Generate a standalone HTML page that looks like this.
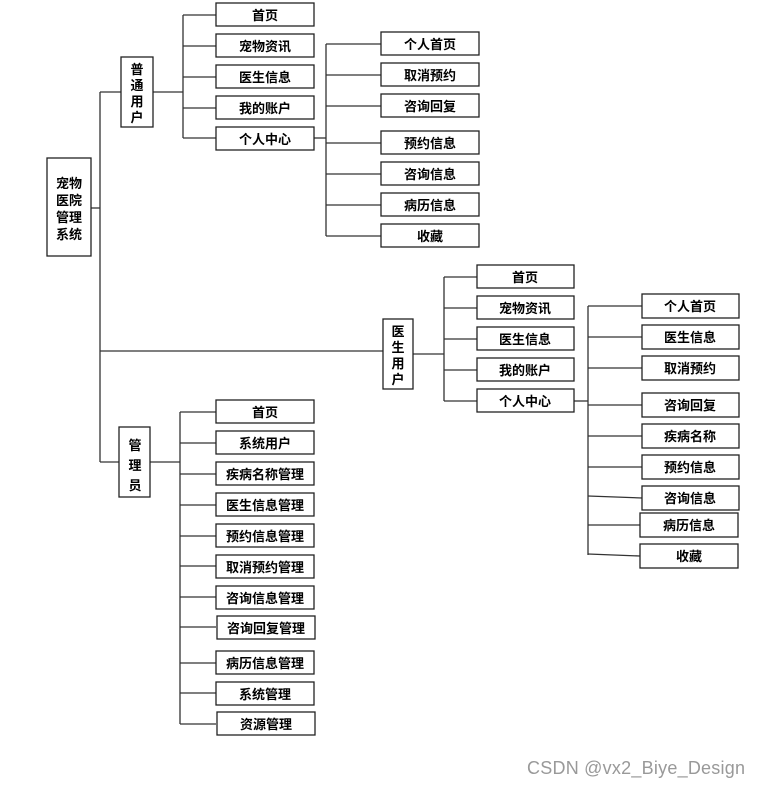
<!DOCTYPE html>
<html><head><meta charset="utf-8"><style>
html,body{margin:0;padding:0;background:#fff;}
svg text{font-family:"Liberation Sans","Noto Sans CJK SC",sans-serif;font-size:13px;font-weight:bold;fill:#000;}
</style></head><body>
<svg width="759" height="786" viewBox="0 0 759 786" xmlns="http://www.w3.org/2000/svg">
<g stroke="#333" stroke-width="1.3" fill="none">
<line x1="91" y1="208" x2="100" y2="208"/>
<line x1="100" y1="92" x2="100" y2="462"/>
<line x1="100" y1="92" x2="121" y2="92"/>
<line x1="100" y1="351" x2="383" y2="351"/>
<line x1="100" y1="462" x2="119" y2="462"/>
<line x1="153" y1="92" x2="183" y2="92"/>
<line x1="183" y1="15" x2="183" y2="138"/>
<line x1="183" y1="15" x2="216" y2="15"/>
<line x1="183" y1="46" x2="216" y2="46"/>
<line x1="183" y1="77" x2="216" y2="77"/>
<line x1="183" y1="108" x2="216" y2="108"/>
<line x1="183" y1="138" x2="216" y2="138"/>
<line x1="314" y1="138" x2="326" y2="138"/>
<line x1="326" y1="44" x2="326" y2="236"/>
<line x1="326" y1="44" x2="381" y2="44"/>
<line x1="326" y1="75" x2="381" y2="75"/>
<line x1="326" y1="106" x2="381" y2="106"/>
<line x1="326" y1="143" x2="381" y2="143"/>
<line x1="326" y1="174" x2="381" y2="174"/>
<line x1="326" y1="205" x2="381" y2="205"/>
<line x1="326" y1="236" x2="381" y2="236"/>
<line x1="413" y1="354" x2="444" y2="354"/>
<line x1="444" y1="277" x2="444" y2="401"/>
<line x1="444" y1="277" x2="477" y2="277"/>
<line x1="444" y1="308" x2="477" y2="308"/>
<line x1="444" y1="339" x2="477" y2="339"/>
<line x1="444" y1="370" x2="477" y2="370"/>
<line x1="444" y1="401" x2="477" y2="401"/>
<line x1="574" y1="401" x2="588" y2="401"/>
<line x1="588" y1="306" x2="588" y2="555"/>
<line x1="588" y1="306" x2="642" y2="306"/>
<line x1="588" y1="337" x2="642" y2="337"/>
<line x1="588" y1="368" x2="642" y2="368"/>
<line x1="588" y1="405" x2="642" y2="405"/>
<line x1="588" y1="436" x2="642" y2="436"/>
<line x1="588" y1="467" x2="642" y2="467"/>
<line x1="588" y1="496" x2="642" y2="498"/>
<line x1="588" y1="525" x2="640" y2="525"/>
<line x1="588" y1="554" x2="640" y2="556"/>
<line x1="150" y1="462" x2="180" y2="462"/>
<line x1="180" y1="412" x2="180" y2="724"/>
<line x1="180" y1="412" x2="216" y2="412"/>
<line x1="180" y1="443" x2="216" y2="443"/>
<line x1="180" y1="474" x2="216" y2="474"/>
<line x1="180" y1="505" x2="216" y2="505"/>
<line x1="180" y1="536" x2="216" y2="536"/>
<line x1="180" y1="566" x2="216" y2="566"/>
<line x1="180" y1="597" x2="216" y2="597"/>
<line x1="180" y1="627" x2="216" y2="627"/>
<line x1="180" y1="663" x2="216" y2="663"/>
<line x1="180" y1="693" x2="216" y2="693"/>
<line x1="180" y1="724" x2="216" y2="724"/>
</g>
<g stroke="#222" stroke-width="1.3" fill="#fff">
<rect x="47" y="158" width="44" height="98"/>
<rect x="121" y="57" width="32" height="70"/>
<rect x="383" y="319" width="30" height="70"/>
<rect x="119" y="427" width="31" height="70"/>
<rect x="216" y="3" width="98" height="23"/>
<rect x="216" y="34" width="98" height="23"/>
<rect x="216" y="65" width="98" height="23"/>
<rect x="216" y="96" width="98" height="23"/>
<rect x="216" y="127" width="98" height="23"/>
<rect x="381" y="32" width="98" height="23"/>
<rect x="381" y="63" width="98" height="23"/>
<rect x="381" y="94" width="98" height="23"/>
<rect x="381" y="131" width="98" height="23"/>
<rect x="381" y="162" width="98" height="23"/>
<rect x="381" y="193" width="98" height="23"/>
<rect x="381" y="224" width="98" height="23"/>
<rect x="477" y="265" width="97" height="23"/>
<rect x="477" y="296" width="97" height="23"/>
<rect x="477" y="327" width="97" height="23"/>
<rect x="477" y="358" width="97" height="23"/>
<rect x="477" y="389" width="97" height="23"/>
<rect x="642" y="294" width="97" height="24"/>
<rect x="642" y="325" width="97" height="24"/>
<rect x="642" y="356" width="97" height="24"/>
<rect x="642" y="393" width="97" height="24"/>
<rect x="642" y="424" width="97" height="24"/>
<rect x="642" y="455" width="97" height="24"/>
<rect x="642" y="486" width="97" height="24"/>
<rect x="640" y="513" width="98" height="24"/>
<rect x="640" y="544" width="98" height="24"/>
<rect x="216" y="400" width="98" height="23"/>
<rect x="216" y="431" width="98" height="23"/>
<rect x="216" y="462" width="98" height="23"/>
<rect x="216" y="493" width="98" height="23"/>
<rect x="216" y="524" width="98" height="23"/>
<rect x="216" y="555" width="98" height="23"/>
<rect x="216" y="586" width="98" height="23"/>
<rect x="217" y="616" width="98" height="23"/>
<rect x="216" y="651" width="98" height="23"/>
<rect x="216" y="682" width="98" height="23"/>
<rect x="217" y="712" width="98" height="23"/>
</g>
<g text-anchor="middle">
<text x="69" y="188">宠物</text><text x="69" y="205">医院</text><text x="69" y="222">管理</text><text x="69" y="239">系统</text>
<text x="137" y="74">普</text><text x="137" y="90">通</text><text x="137" y="106">用</text><text x="137" y="122">户</text>
<text x="398" y="336">医</text><text x="398" y="352">生</text><text x="398" y="368">用</text><text x="398" y="384">户</text>
<text x="135" y="450">管</text><text x="135" y="470">理</text><text x="135" y="490">员</text>
<text x="265" y="20">首页</text>
<text x="265" y="51">宠物资讯</text>
<text x="265" y="82">医生信息</text>
<text x="265" y="113">我的账户</text>
<text x="265" y="144">个人中心</text>
<text x="430" y="49">个人首页</text>
<text x="430" y="80">取消预约</text>
<text x="430" y="111">咨询回复</text>
<text x="430" y="148">预约信息</text>
<text x="430" y="179">咨询信息</text>
<text x="430" y="210">病历信息</text>
<text x="430" y="241">收藏</text>
<text x="525" y="282">首页</text>
<text x="525" y="313">宠物资讯</text>
<text x="525" y="344">医生信息</text>
<text x="525" y="375">我的账户</text>
<text x="525" y="406">个人中心</text>
<text x="690" y="311">个人首页</text>
<text x="690" y="342">医生信息</text>
<text x="690" y="373">取消预约</text>
<text x="690" y="410">咨询回复</text>
<text x="690" y="441">疾病名称</text>
<text x="690" y="472">预约信息</text>
<text x="690" y="503">咨询信息</text>
<text x="689" y="530">病历信息</text>
<text x="689" y="561">收藏</text>
<text x="265" y="417">首页</text>
<text x="265" y="448">系统用户</text>
<text x="265" y="479">疾病名称管理</text>
<text x="265" y="510">医生信息管理</text>
<text x="265" y="541">预约信息管理</text>
<text x="265" y="572">取消预约管理</text>
<text x="265" y="603">咨询信息管理</text>
<text x="266" y="633">咨询回复管理</text>
<text x="265" y="668">病历信息管理</text>
<text x="265" y="699">系统管理</text>
<text x="266" y="729">资源管理</text>
</g>
<text x="527" y="774" textLength="218" style="font-size:18px;font-weight:normal;fill:#999;">CSDN @vx2_Biye_Design</text>
</svg>
</body></html>
